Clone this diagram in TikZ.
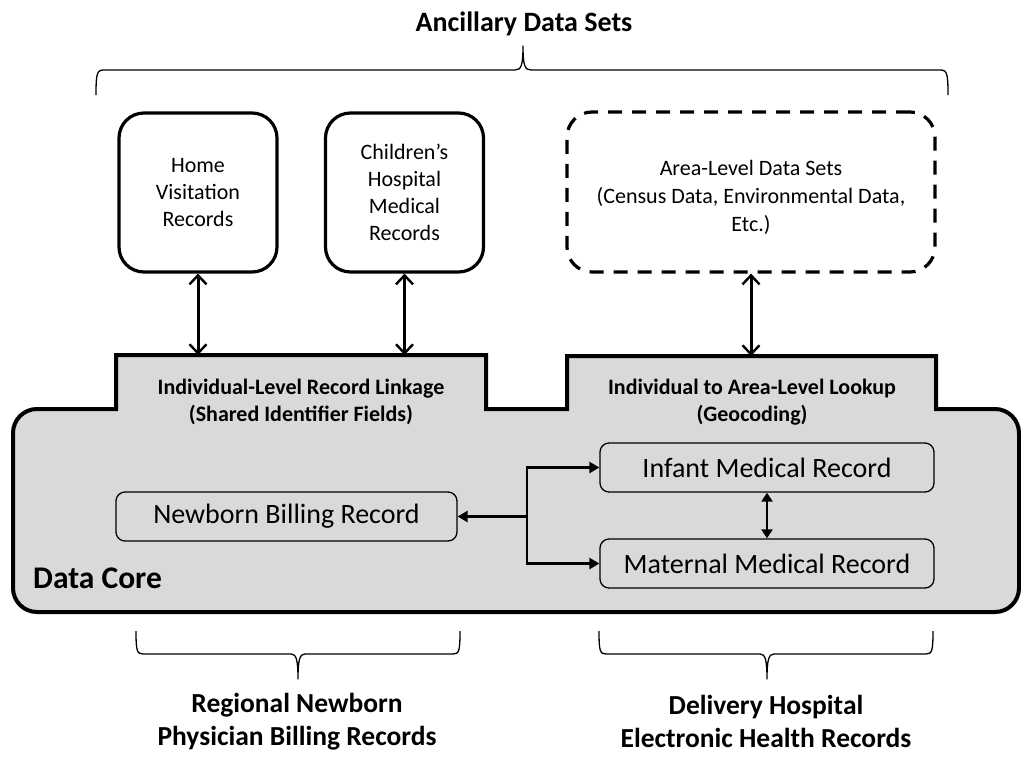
\documentclass[tikz,border=0pt]{standalone}
\usepackage{fontspec}
\setmainfont{Carlito}
\usetikzlibrary{arrows.meta}
\definecolor{coregray}{HTML}{D9D9D9}
\begin{document}
\begin{tikzpicture}[x=1pt,y=-1pt,
  srcbox/.style={draw, line width=3.2pt, rounded corners=25pt, minimum width=158pt, minimum height=159pt, align=center, font=\fontsize{22}{27}\selectfont, inner sep=0pt},
  areabox/.style={draw, line width=3.2pt, dash pattern=on 14pt off 10pt, rounded corners=25pt, minimum width=368pt, minimum height=160pt, align=center, font=\fontsize{22}{28}\selectfont, inner sep=0pt},
  recbox/.style={draw, fill=coregray, line width=1.3pt, rounded corners=9pt, minimum height=49pt, font=\fontsize{28}{32}\selectfont, inner sep=0pt},
  tabtext/.style={align=center, font=\bfseries\fontsize{22}{27.5}\selectfont, inner sep=0pt},
  biglabel/.style={align=center, font=\bfseries\fontsize{27.5}{33}\selectfont},
  brace/.style={line width=1.3pt, line join=round},
  vlink/.style={line width=3pt, {Straight Barb[length=9pt,width=17pt,line width=2.4pt]}-{Straight Barb[length=9pt,width=17pt,line width=2.4pt]}},
  tri/.style={line width=2.8pt}
]
\useasboundingbox (0,0) rectangle (1021,758);

% Title and top brace
\node[font=\bfseries\fontsize{28}{32}\selectfont, inner sep=0pt] (title) at (524,24) {Ancillary Data Sets};
\draw[brace] (96,95) .. controls (96,73) and (97,70) .. (104,70) -- (515,70) .. controls (521,70) and (523,66) .. (523,46) .. controls (523,66) and (525,70) .. (531,70) -- (940,70) .. controls (947,70) and (948,73) .. (948,95);

% Ancillary boxes
\node[srcbox] (home) at (198,192.5) {Home\\Visitation\\Records};
\node[srcbox] (child) at (404.5,192.5) {Children’s\\Hospital\\Medical\\Records};
\node[areabox] (area) at (751,192) {\rule{0pt}{26pt}Area-Level Data Sets\\(Census Data, Environmental Data,\\Etc.)};

% Data core shape
\draw[line width=4pt, fill=coregray, line join=miter] (960,409) [rounded corners=24pt] -- (1019,409) -- (1019,612) -- (13,612) -- (13,409) -- (60,409) [sharp corners] -- (116,409) -- (116,355) -- (486,355) -- (486,409) -- (567,409) -- (567,356) -- (936,356) -- (936,409) -- cycle;

\coordinate (tabLtop) at (301,355);
\coordinate (tabRtop) at (751.5,356);
\node[tabtext] (tabL) at (301,402) {Individual-Level Record Linkage\\(Shared Identifier Fields)};
\node[tabtext] (tabR) at (752,402) {Individual to Area-Level Lookup\\(Geocoding)};

\node[font=\bfseries\fontsize{31.5}{34}\selectfont, anchor=base west, inner sep=0pt] (core) at (33,588) {Data Core};

% Records
\node[recbox, minimum width=341pt] (newborn) at (286.5,516.5) {Newborn Billing Record};
\node[recbox, minimum width=334pt] (infant) at (767,467.5) {Infant Medical Record};
\node[recbox, minimum width=334pt] (maternal) at (767,563.5) {Maternal Medical Record};

% Vertical links
\draw[vlink] (home.south) -- (home.south |- tabLtop);
\draw[vlink] (child.south) -- (child.south |- tabLtop);
\draw[vlink] (area.south) -- (area.south |- tabRtop);

% Inner links
\coordinate (j) at (527,516.5);
\draw[tri, -{Triangle[length=10pt,width=11pt]}] (j) -- (newborn.east);
\draw[tri, {Triangle[length=10pt,width=11pt]}-{Triangle[length=10pt,width=11pt]}, line join=miter] (infant.west) -| (j) |- (maternal.west);
\draw[tri, {Triangle[length=9pt,width=11pt]}-{Triangle[length=9pt,width=11pt]}] (infant.south) -- (maternal.north);

% Bottom braces
\draw[brace] (136,631) .. controls (136,651) and (137,654) .. (143,654) -- (291,654) .. controls (296,654) and (298,659) .. (298,679) .. controls (298,659) and (300,654) .. (305,654) -- (453,654) .. controls (459,654) and (460,651) .. (460,631);
\draw[brace] (599,631) .. controls (599,651) and (600,654) .. (606,654) -- (760,654) .. controls (765,654) and (767,659) .. (767,679) .. controls (767,659) and (769,654) .. (774,654) -- (926,654) .. controls (932,654) and (933,651) .. (933,631);

\node[biglabel] (regional) at (297,721.5) {Regional Newborn\\Physician Billing Records};
\node[biglabel] (delivery) at (766,721.5) {Delivery Hospital\\Electronic Health Records};
\end{tikzpicture}
\end{document}
